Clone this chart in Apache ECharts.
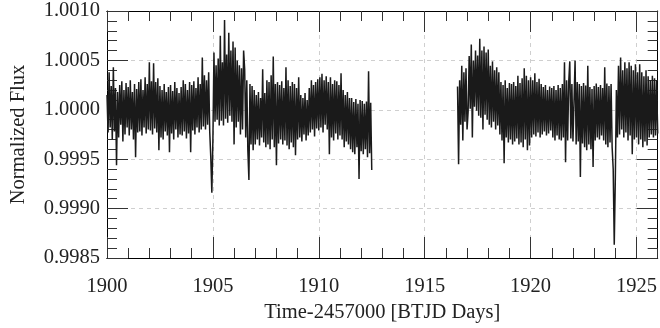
<!DOCTYPE html>
<html><head><meta charset="utf-8">
<script src="https://cdn.jsdelivr.net/npm/echarts@6/dist/echarts.min.js"></script>
<style>html,body{margin:0;padding:0;background:#fff}#c{width:660px;height:328px}</style>
</head><body><div id="c"></div>
<script>
// Light-curve samples: deviation from 1.0 in ppm
const cadence = 0.05;           // days between samples
const seg1Start = 1900.00;
const seg1Ppm = [
150,-230,380,-180,240,-300,430,-220,220,-560,
180,-280,250,-150,290,-320,200,-250,270,-180,
230,-260,300,-200,180,-300,260,-480,210,-230,
280,-220,310,-260,200,-180,330,-240,260,-200,
480,-210,290,-250,470,-190,280,-230,320,-410,
240,-280,200,-300,260,-220,180,-260,230,-430,
250,-240,190,-300,280,-200,220,-280,170,-250,
230,-260,300,-220,260,-290,200,-240,280,-430,
250,-210,290,-250,220,-180,330,-230,260,-200,
530,-170,350,-200,300,-150,380,-220,-480,-840,
-300,580,-120,450,-100,520,-160,750,-110,480,
-160,910,-90,560,-130,780,-60,600,-120,690,
-350,630,-180,500,-120,450,-250,420,-200,600,
410,-280,300,-410,-710,260,-350,240,-410,200,
-350,150,-300,180,-360,120,-280,410,-330,170,
-380,300,-350,280,-400,350,-300,540,-380,260,
-560,280,-340,250,-300,290,-350,220,-310,430,
-360,300,-400,240,-330,280,-380,260,-460,220,
-300,330,-280,150,-320,120,-250,170,-310,100,
-260,220,-230,300,-200,250,-270,280,-190,310,
-210,330,-180,365,-230,300,-150,340,-200,280,
-450,330,-280,260,-310,300,-240,290,-300,250,
-260,370,-300,200,-380,150,-320,180,-350,120,
-400,120,-430,80,-450,110,-380,60,-700,100,
-420,90,-450,60,-400,85,-480,390,-440,70,
-610
];
const seg2Start = 1916.55;
const seg2Ppm = [
235,-550,300,-150,445,-310,380,-120,420,-200,
-20,545,10,660,-280,500,30,600,-10,550,
-60,720,-80,600,-200,640,-50,580,-100,610,
-150,445,-180,490,-120,400,-200,430,-160,380,
-250,280,-310,250,-540,300,-280,220,-330,270,
-300,260,-350,280,-320,240,-290,345,-350,270,
-330,320,-380,420,-300,345,-410,300,-360,330,
-280,300,-250,370,-270,280,-230,315,-280,260,
-250,230,-220,250,-260,200,-240,235,-210,220,
-280,240,-310,200,-260,250,-300,220,-310,260,
-280,480,-530,300,-310,280,490,-290,260,-320,
-300,500,-350,280,-320,260,-680,240,-340,270,
-380,245,-410,445,-350,230,-400,210,-580,240,
-310,265,-280,230,-300,250,-260,220,-310,430,
-350,265,-380,240,-330,260,-380,-600,-1365,-700,
200,-280,445,-250,530,-200,400,-280,480,-230,
420,-310,480,-260,445,-450,400,-300,460,-280,
380,-350,460,-300,380,-380,340,-320,400,-360,
340,-280,300,-250,345,-280,320,-260,300,-240
];
const xMin = 1900, xMax = 1926, xMajor = 5, xMinor = 1;
const yMin = 0.9985, yMax = 1.0010, yMajor = 0.0005;
const xTitle = 'Time-2457000 [BTJD Days]';
const yTitle = 'Normalized Flux';

function toPairs(start, arr){
  return arr.map((v,i)=>[Number((start + i*cadence).toFixed(2)), 1 + v/1e6]);
}
const FONT = '"Liberation Serif", "DejaVu Serif", serif';
const black = '#000';
const grid = {left:107, right:0, top:11, bottom:65};
const split = {show:true, lineStyle:{color:'#cfcfcf', width:1, type:[4,4]}};
function xa(pos, interval, len, opts){
  return Object.assign({type:'value', position:pos, min:xMin, max:xMax, interval:interval,
    axisLine:{show:true, lineStyle:{color:black, width:1}},
    axisTick:{show:true, inside:true, length:len, lineStyle:{color:'#333', width:1}},
    axisLabel:{show:false}, splitLine:{show:false}}, opts||{});
}
const option = {
  animation:false,
  grid: grid,
  xAxis: [
    xa('bottom', xMajor, 21, {
      axisLabel:{show:true, margin:18, color:'#222', fontFamily:FONT, fontSize:20.5, showMaxLabel:false,
        formatter:v => (Math.abs(v % 5) < 1e-9 ? String(Math.round(v)) : '')},
      splitLine: split,
      name:xTitle, nameLocation:'middle', nameGap:44,
      nameTextStyle:{color:'#222', fontFamily:FONT, fontSize:20.5}
    }),
    xa('bottom', xMinor, 10),
    xa('top', xMajor, 21),
    xa('top', xMinor, 10)
  ],
  yAxis: [
    {type:'value', position:'left', min:yMin, max:yMax, interval:yMajor,
      axisLine:{show:true, lineStyle:{color:black, width:1}},
      axisTick:{show:true, inside:true, length:21, lineStyle:{color:'#333'}},
      minorTick:{show:true, splitNumber:5, length:10, lineStyle:{color:'#333'}},
      axisLabel:{margin:7, color:'#222', fontFamily:FONT, fontSize:20.5, formatter:v=>v.toFixed(4)},
      splitLine: split,
      name:yTitle, nameLocation:'middle', nameGap:78, nameRotate:90,
      nameTextStyle:{color:'#222', fontFamily:FONT, fontSize:20.5}
    },
    {type:'value', position:'right', min:yMin, max:yMax, interval:yMajor,
      axisLine:{show:true, lineStyle:{color:black, width:1}},
      axisTick:{show:true, inside:true, length:21, lineStyle:{color:'#333'}},
      minorTick:{show:true, splitNumber:5, length:10, lineStyle:{color:'#333'}},
      axisLabel:{show:false}, splitLine:{show:false}
    }
  ],
  series: [
    {type:'line', xAxisIndex:0, yAxisIndex:0, data:toPairs(seg1Start, seg1Ppm), showSymbol:false,
      lineStyle:{color:'#1a1a1a', width:1.5}, sampling:null, clip:true},
    {type:'line', xAxisIndex:0, yAxisIndex:0, data:toPairs(seg2Start, seg2Ppm), showSymbol:false,
      lineStyle:{color:'#1a1a1a', width:1.5}, sampling:null, clip:true}
  ]
};
echarts.init(document.getElementById('c')).setOption(option);
</script></body></html>
